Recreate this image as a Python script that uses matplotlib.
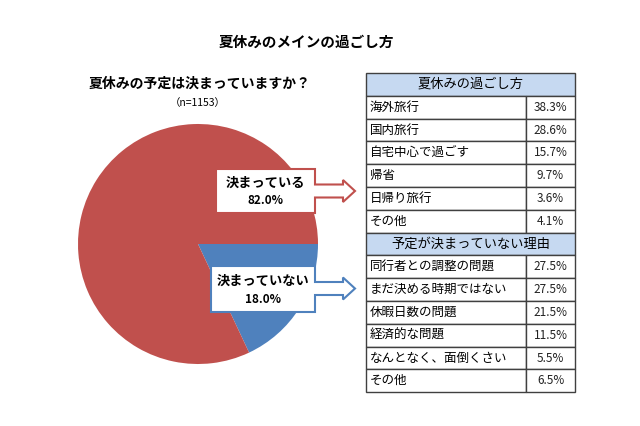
import matplotlib.pyplot as plt
from matplotlib.patches import Rectangle, Polygon

plt.rcParams['font.family'] = ['Noto Sans CJK JP', 'DejaVu Sans']

# data
pie_labels = ['決まっていない', '決まっている']
pie_values = [18.0, 82.0]
pie_colors = ['#4F81BD', '#C0504D']

plan_items = ['海外旅行', '国内旅行', '自宅中心で過ごす', '帰省', '日帰り旅行', 'その他']
plan_values = [38.3, 28.6, 15.7, 9.7, 3.6, 4.1]
reason_items = ['同行者との調整の問題', 'まだ決める時期ではない', '休暇日数の問題',
                '経済的な問題', 'なんとなく、面倒くさい', 'その他']
reason_values = [27.5, 27.5, 21.5, 11.5, 5.5, 6.5]

fig = plt.figure(figsize=(6.4, 4.26), dpi=100)
ax = fig.add_axes([0, 0, 1, 1])

# pie (y axis is flipped below, so counterclock in data = clockwise on screen)
ax.pie(pie_values, colors=pie_colors, startangle=0, counterclock=True,
       center=(198, 244), radius=120, wedgeprops=dict(linewidth=0))

ax.set_xlim(0, 640)
ax.set_ylim(426, 0)
ax.set_aspect('auto')
ax.axis('off')

# titles
ax.text(306, 42, '夏休みのメインの過ごし方', ha='center', va='center',
        fontsize=10.5, fontweight='bold')
ax.text(200, 84, '夏休みの予定は決まっていますか？', ha='center', va='center',
        fontsize=10, fontweight='bold')
ax.text(198, 103, '（n=1153）', ha='center', va='center', fontsize=7.5)

# callout boxes with arrows
def callout(x0, x1, y0, y1, yc, color, label, value):
    sh, hh = 6.5, 11
    base, tip = x1 + 28, x1 + 40
    pts = [(x0, y0), (x1, y0), (x1, yc - sh), (base, yc - sh), (base, yc - hh),
           (tip, yc), (base, yc + hh), (base, yc + sh), (x1, yc + sh),
           (x1, y1), (x0, y1)]
    ax.add_patch(Polygon(pts, closed=True, facecolor='white', edgecolor=color,
                         linewidth=1.5, zorder=5))
    xm = (x0 + x1) / 2
    ax.text(xm, y0 + (y1 - y0) * 0.32, label, ha='center', va='center',
            fontsize=9.5, fontweight='bold', zorder=6)
    ax.text(xm, y0 + (y1 - y0) * 0.72, f'{value:.1f}%', ha='center', va='center',
            fontsize=8.5, fontweight='bold', zorder=6)

callout(216, 315, 169, 213, 191, pie_colors[1], pie_labels[1], pie_values[1])
callout(211, 315, 266, 312, 288.5, pie_colors[0], pie_labels[0], pie_values[0])

# table
tx0, tsep, tx1 = 366, 526, 575
top, rh = 73, 22.8
line = '#404040'
header_fill = '#C6D9F1'

rows = [('夏休みの過ごし方', None)] + list(zip(plan_items, plan_values)) + \
       [('予定が決まっていない理由', None)] + list(zip(reason_items, reason_values))

for i, (name, val) in enumerate(rows):
    y = top + i * rh
    if val is None:
        ax.add_patch(Rectangle((tx0, y), tx1 - tx0, rh, facecolor=header_fill,
                               edgecolor=line, linewidth=1.0))
        ax.text((tx0 + tx1) / 2, y + rh / 2, name, ha='center', va='center',
                fontsize=9.5)
    else:
        ax.add_patch(Rectangle((tx0, y), tsep - tx0, rh, facecolor='white',
                               edgecolor=line, linewidth=1.0))
        ax.add_patch(Rectangle((tsep, y), tx1 - tsep, rh, facecolor='white',
                               edgecolor=line, linewidth=1.0))
        ax.text(tx0 + 4, y + rh / 2, name, ha='left', va='center', fontsize=9)
        ax.text((tsep + tx1) / 2, y + rh / 2, f'{val:.1f}%', ha='center',
                va='center', fontsize=8.5, color='#222222')

fig.savefig('out.png', dpi=100, facecolor='white')
